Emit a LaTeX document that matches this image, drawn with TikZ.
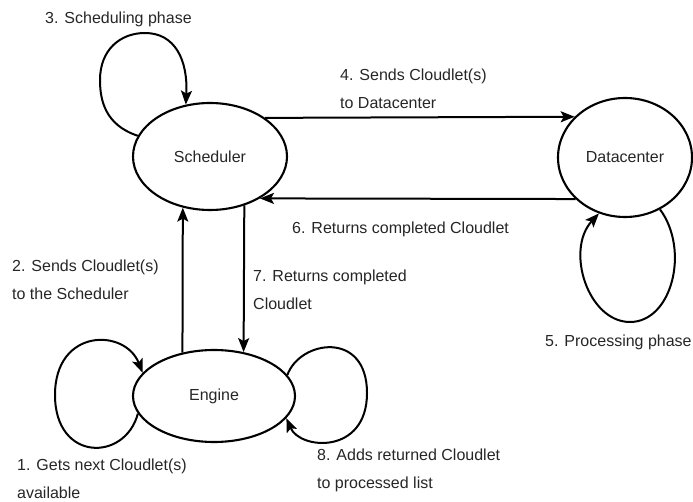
\documentclass[tikz,border=0pt]{standalone}
\usepackage{fontspec}
\setmainfont{Liberation Sans}
\usetikzlibrary{shapes.geometric,arrows.meta}
\begin{document}
\begin{tikzpicture}[x=1pt,y=-1pt,
  state/.style={ellipse,draw,line width=2.1pt,inner sep=0pt,text=black!85,font=\fontsize{16}{19}\selectfont},
  arr/.style={line width=2pt,-{Stealth[length=14pt,width=11pt,inset=3pt]}},
  lbl/.style={anchor=north west,inner sep=0pt,align=left,text=black!85,font=\fontsize{16}{28}\selectfont}]
\useasboundingbox (0,0) rectangle (693,502);
% states
\node[state,minimum width=154pt,minimum height=107pt] (sch) at (210,156.5) {Scheduler};
\node[state,minimum width=134pt,minimum height=119pt] (dc) at (625,157.5) {Datacenter};
\node[state,minimum width=162pt,minimum height=92pt] (eng) at (214,396) {Engine};
% straight connectors
\draw[arr] (sch.35.7) -- (dc.141.7);
\draw[arr] (dc.-140.5) -- (sch.-40.5);
\draw[arr] (eng.126.1) -- (sch.-118.3);
\draw[arr] (sch.-55.7) -- (eng.56.0);
% loops
\draw[arr] (sch.164.8) .. controls (105,125) and (100,100) .. (100,80)
  .. controls (100,50) and (120,33) .. (145,33)
  .. controls (175,33) and (188,60) .. (sch.115.9);
\draw[arr] (dc.-56.3) .. controls (690,250) and (672,322) .. (630,322)
  .. controls (588,322) and (565,250) .. (dc.-115.9);
\draw[arr] (eng.193) .. controls (125,462) and (55,462) .. (55,395)
  .. controls (55,328) and (125,328) .. (eng.162.5);
\draw[arr] (eng.16.4) .. controls (300,340) and (367,330) .. (367,393)
  .. controls (367,455) and (300,450) .. (eng.-17.5);
% labels
\node[lbl] (l3) at (45,12) {3. Scheduling phase};
\node[lbl] (l4) at (340,69) {4. Sends Cloudlet(s)\\to Datacenter};
\node[lbl] (l6) at (292,222) {6. Returns completed Cloudlet};
\node[lbl] (l2) at (12,260) {2. Sends Cloudlet(s)\\to the Scheduler};
\node[lbl] (l7) at (253,270) {7. Returns completed\\Cloudlet};
\node[lbl] (l5) at (545,335) {5. Processing phase};
\node[lbl] (l1) at (17,459) {1. Gets next Cloudlet(s)\\available};
\node[lbl] (l8) at (317,449) {8. Adds returned Cloudlet\\to processed list};
\end{tikzpicture}
\end{document}
